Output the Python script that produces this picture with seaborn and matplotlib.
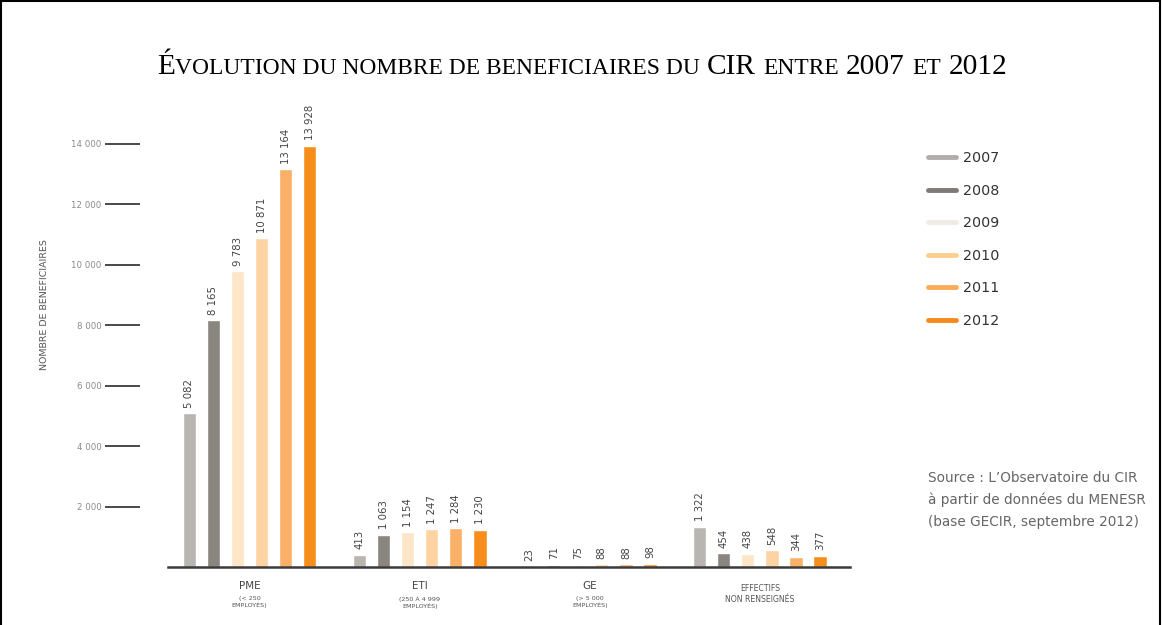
import matplotlib
matplotlib.use("Agg")
import matplotlib.pyplot as plt
import seaborn as sns
import pandas as pd
from matplotlib.lines import Line2D
from matplotlib.patches import Rectangle
from matplotlib.offsetbox import TextArea, HPacker, AnchoredOffsetbox, DrawingArea

# ---- data ----
categories = ["PME", "ETI", "GE", "EFFECTIFS"]
years = ["2007", "2008", "2009", "2010", "2011", "2012"]
pme = [5082, 8165, 9783, 10871, 13164, 13928]
eti = [413, 1063, 1154, 1247, 1284, 1230]
ge = [23, 71, 75, 88, 88, 98]
non_renseignes = [1322, 454, 438, 548, 344, 377]
yticks = [2000, 4000, 6000, 8000, 10000, 12000, 14000]
cat_main = ["PME", "ETI", "GE", "EFFECTIFS"]
cat_sub = ["(< 250\nEMPLOYÉS)", "(250 À 4 999\nEMPLOYÉS)", "(> 5 000\nEMPLOYÉS)", "NON RENSEIGNÉS"]
source_lines = ["Source : L’Observatoire du CIR",
                "à partir de données du MENESR",
                "(base GECIR, septembre 2012)"]

bar_colors = ["#b9b6b2", "#8a857e", "#fde6c8", "#fdd3a3", "#fbb067", "#f78e1c"]
legend_colors = ["#b0aeab", "#7f7b77", "#efece6", "#fccf8c", "#fbab58", "#f68a1d"]

rows = []
for cat, vals in zip(categories, [pme, eti, ge, non_renseignes]):
    for y, v in zip(years, vals):
        rows.append({"cat": cat, "year": y, "val": v})
df = pd.DataFrame(rows)

sns.set_style("white")
plt.rcParams["font.family"] = ["DejaVu Sans"]

W, H = 1162, 625
fig = plt.figure(figsize=(W / 100, H / 100), dpi=100)
ax = fig.add_axes([168 / W, 1 - 567 / H, (850 - 168) / W, (567 - 100) / H])

sns.barplot(data=df, x="cat", y="val", hue="year", order=categories, hue_order=years,
            palette=bar_colors, width=0.85, gap=0.45, saturation=1, legend=False, ax=ax)

def fmt(v):
    return f"{v:,}".replace(",", " ")

for cont, yr in zip(ax.containers, years):
    vals = [r["val"] for r in rows if r["year"] == yr]
    ax.bar_label(cont, labels=[fmt(v) for v in vals], rotation=90, padding=4,
                 fontsize=7.3, color="#444444")

ax.set_xlim(-0.48, 3.53)
ax.set_ylim(0, 15450)
ax.set_xlabel("")
ax.set_ylabel("")
for s in ["top", "right", "left"]:
    ax.spines[s].set_visible(False)
ax.spines["bottom"].set_color("#3a3a3a")
ax.spines["bottom"].set_linewidth(1.8)
ax.spines["left"].set_position(("outward", 20))

ax.set_yticks(yticks)
ax.set_yticklabels([fmt(v) for v in yticks])
ax.tick_params(axis="y", direction="out", length=25, width=1.3, color="#3a3a3a",
               pad=3, labelsize=6.2, labelcolor="#8a8a8a", left=True)
ax.set_xticks(range(4))
ax.set_xticklabels([""] * 4)
ax.tick_params(axis="x", length=0)

for i, (m, s) in enumerate(zip(cat_main, cat_sub)):
    if i < 3:
        ax.annotate(m, xy=(i, 0), xytext=(0, -10), textcoords="offset points",
                    ha="center", va="top", fontsize=7.5, color="#444444")
        ax.annotate(s, xy=(i, 0), xytext=(0, -21), textcoords="offset points",
                    ha="center", va="top", fontsize=4.6, color="#555555", linespacing=1.1)
    else:
        ax.annotate(m + "\n" + s, xy=(i, 0), xytext=(0, -12), textcoords="offset points",
                    ha="center", va="top", fontsize=5.6, color="#555555", linespacing=1.3)

fig.text(45 / W, 1 - 305 / H, "NOMBRE DE BENEFICIAIRES", rotation=90, ha="center",
         va="center", fontsize=6.8, color="#555555")

# legend
handles = [Line2D([0], [0], color=c, lw=3.5) for c in legend_colors]
fig.legend(handles, years, loc="upper left", bbox_to_anchor=(928 / W, 1 - 151 / H),
           frameon=False, fontsize=10.3, labelspacing=1.3, handlelength=1.95,
           handletextpad=0.5, labelcolor="#333333", borderaxespad=0, borderpad=0)

# source
for k, line in enumerate(source_lines):
    fig.text(928 / W, 1 - (478 + 22 * k) / H, line, ha="left", va="center",
             fontsize=9.8, color="#666666")

# title in small caps
L, S = 21.2, 16.9
serif = "Liberation Serif"
def ta(t, size):
    return TextArea(t, textprops=dict(fontsize=size, family=serif, color="black"))
def sp(w=5.3):
    return DrawingArea(w, 1)
children = [ta("É", L), ta("VOLUTION DU NOMBRE DE BENEFICIAIRES DU", S), sp(), ta("CIR", L), sp(),
            ta("ENTRE", S), sp(), ta("2007", L), sp(), ta("ET", S), sp(), ta("2012", L)]
pack = HPacker(children=children, align="baseline", pad=0, sep=0)
anch = AnchoredOffsetbox(loc="center", child=pack, bbox_to_anchor=(582 / W, 1 - 67 / H),
                         bbox_transform=fig.transFigure, frameon=False, pad=0, borderpad=0)
fig.add_artist(anch)

# border
fig.add_artist(Rectangle((0.001, -0.05), 0.9975, 1.0485, transform=fig.transFigure,
                         fill=False, edgecolor="black", lw=1.5))

fig.savefig("out.png", dpi=100)
